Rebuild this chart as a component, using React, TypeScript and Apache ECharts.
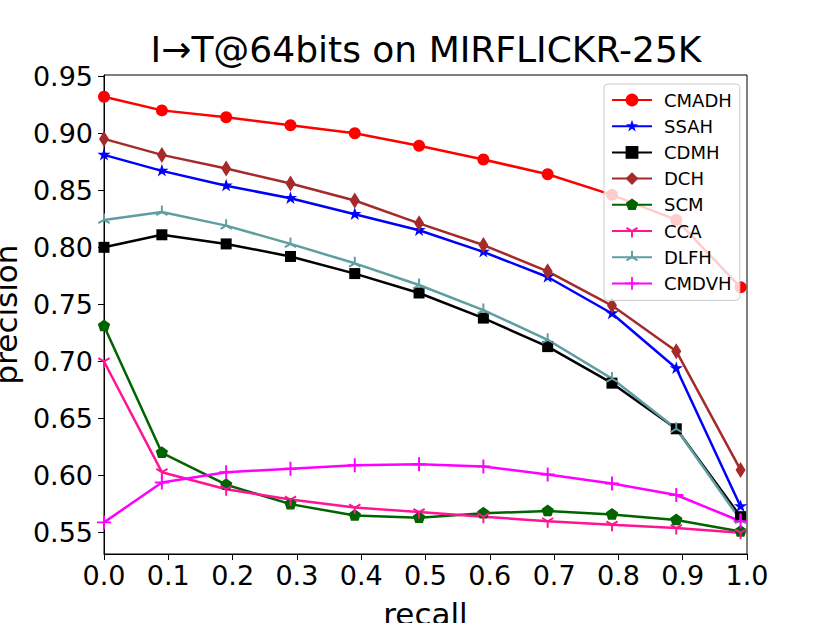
import React, { useEffect, useRef } from "react";
import * as echarts from "echarts";

const recall = [0, 0.09, 0.19, 0.29, 0.39, 0.49, 0.59, 0.69, 0.79, 0.89, 0.99];
const cmadh = [0.932, 0.92, 0.914, 0.907, 0.9, 0.889, 0.877, 0.864, 0.846, 0.824, 0.765];
const ssah = [0.881, 0.867, 0.854, 0.843, 0.829, 0.815, 0.796, 0.774, 0.742, 0.694, 0.573];
const cdmh = [0.8, 0.811, 0.803, 0.792, 0.777, 0.76, 0.738, 0.713, 0.681, 0.641, 0.564];
const dch = [0.895, 0.881, 0.869, 0.856, 0.841, 0.821, 0.802, 0.779, 0.749, 0.709, 0.605];
const scm = [0.731, 0.62, 0.592, 0.575, 0.565, 0.563, 0.567, 0.569, 0.566, 0.561, 0.551];
const cca = [0.7, 0.603, 0.588, 0.579, 0.572, 0.568, 0.564, 0.56, 0.557, 0.554, 0.55];
const dlfh = [0.824, 0.831, 0.819, 0.803, 0.786, 0.767, 0.745, 0.719, 0.685, 0.641, 0.561];
const cmdvh = [0.559, 0.594, 0.603, 0.606, 0.609, 0.61, 0.608, 0.601, 0.593, 0.583, 0.56];
const yTicks = [0.55, 0.6, 0.65, 0.7, 0.75, 0.8, 0.85, 0.9, 0.95];
const names = ["CMADH", "SSAH", "CDMH", "DCH", "SCM", "CCA", "DLFH", "CMDVH"];

const BOX = "M-10 -10 M10 10 ";
function polyPath(pts: number[][]) {
  return "M" + pts.map((p) => p[0].toFixed(2) + " " + p[1].toFixed(2)).join(" L") + " Z ";
}
function starPath() {
  const pts: number[][] = [];
  for (let i = 0; i < 10; i++) {
    const r = i % 2 === 0 ? 10 : 3.82;
    const a = -Math.PI / 2 + (i * Math.PI) / 5;
    pts.push([r * Math.cos(a), r * Math.sin(a)]);
  }
  return "path://" + BOX + polyPath(pts);
}
function pentPath() {
  const pts: number[][] = [];
  for (let i = 0; i < 5; i++) {
    const a = -Math.PI / 2 + (i * 2 * Math.PI) / 5;
    pts.push([10 * Math.cos(a), 10 * Math.sin(a)]);
  }
  return "path://" + BOX + polyPath(pts);
}
function armsPath(angles: number[], hw: number) {
  let d = BOX;
  for (const deg of angles) {
    const a = (deg * Math.PI) / 180;
    const dx = Math.cos(a), dy = Math.sin(a);
    const nx = -dy * hw, ny = dx * hw;
    const sx = -dx * hw, sy = -dy * hw;
    const ex = dx * 10, ey = dy * 10;
    d += polyPath([
      [sx - nx, sy - ny],
      [ex - nx, ey - ny],
      [ex + nx, ey + ny],
      [sx + nx, sy + ny],
    ]);
  }
  return "path://" + d;
}
const STAR = starPath();
const PENT = pentPath();
const TRI_DOWN = armsPath([90, 210, 330], 1.5);
const TRI_UP = armsPath([270, 30, 150], 1.5);
const PLUS = armsPath([0, 90, 180, 270], 1.4);

const FONT = "DejaVu Sans";

export default function App() {
  const ref = useRef<HTMLDivElement>(null);
  useEffect(() => {
    if (!ref.current) return;
    const chart = echarts.init(ref.current, undefined, { renderer: "svg" });
    const mk = (
      name: string,
      vals: number[],
      color: string,
      symbol: string,
      size: number | number[]
    ) => ({
      name,
      type: "line",
      data: recall.map((x, i) => [x, vals[i]]),
      symbol,
      symbolSize: size,
      symbolKeepAspect: true,
      showAllSymbol: true,
      clip: true,
      lineStyle: { color, width: 2.5 },
      itemStyle: { color, borderWidth: 0, opacity: 1 },
      emphasis: { disabled: true },
    });
    chart.setOption({
      animation: false,
      title: {
        text: "I→T@64bits on MIRFLICKR-25K",
        left: 421,
        top: 26,
        textAlign: "center",
        textStyle: { fontFamily: FONT, fontSize: 36, fontWeight: "normal", color: "#000" },
      },
      legend: {
        orient: "vertical",
        left: 604,
        top: 84,
        padding: [7, 8, 8, 7],
        itemWidth: 40,
        itemHeight: 16,
        itemGap: 8.2,
        backgroundColor: "rgba(255,255,255,0.8)",
        borderColor: "#cccccc",
        borderWidth: 1,
        borderRadius: 4,
        data: names,
        textStyle: {
          fontFamily: FONT,
          fontSize: 18,
          color: "#000",
          lineHeight: 16,
          padding: [0, 0, 0, 7],
        },
      },
      grid: {
        left: 104,
        top: 75,
        width: 643,
        height: 479,
        outerBoundsMode: "none",
        containLabel: false,
        show: true,
        borderColor: "#000",
        borderWidth: 1,
        backgroundColor: "transparent",
      },
      xAxis: {
        type: "value",
        min: 0,
        max: 1,
        interval: 0.1,
        name: "recall",
        nameLocation: "middle",
        nameGap: 44,
        nameTextStyle: { fontFamily: FONT, fontSize: 31, color: "#000" },
        axisLine: { show: true, lineStyle: { color: "#000", width: 1 } },
        axisTick: { show: true, inside: false, length: 6, lineStyle: { color: "#000", width: 1 } },
        axisLabel: {
          fontFamily: FONT,
          fontSize: 27,
          color: "#000",
          margin: 8,
          formatter: (v: number) => v.toFixed(1),
        },
        splitLine: { show: false },
      },
      yAxis: {
        type: "value",
        min: 0.5313,
        max: 0.951,
        name: "precision",
        nameLocation: "middle",
        nameRotate: 90,
        nameGap: 79,
        nameTextStyle: { fontFamily: FONT, fontSize: 31, color: "#000" },
        axisLine: { show: true, lineStyle: { color: "#000", width: 1 } },
        axisTick: {
          show: true,
          inside: false,
          length: 6,
          customValues: yTicks,
          lineStyle: { color: "#000", width: 1 },
        },
        axisLabel: {
          fontFamily: FONT,
          fontSize: 27,
          color: "#000",
          margin: 11,
          customValues: yTicks,
          formatter: (v: number) => v.toFixed(2),
        },
        splitLine: { show: false },
      },
      series: [
        mk("CMADH", cmadh, "#ff0000", "circle", 12),
        mk("SSAH", ssah, "#0000ff", STAR, 14),
        mk("CDMH", cdmh, "#000000", "rect", 11),
        mk("DCH", dch, "#a52a2a", "diamond", [10, 16]),
        mk("SCM", scm, "#006400", PENT, 13),
        mk("CCA", cca, "#ff1493", TRI_DOWN, 13),
        mk("DLFH", dlfh, "#5f9ea0", TRI_UP, 13),
        mk("CMDVH", cmdvh, "#ff00ff", PLUS, 14),
      ],
    });
    return () => chart.dispose();
  }, []);
  return (
    <div
      ref={ref}
      style={{ position: "absolute", left: 0, top: 0, width: 830, height: 623, background: "#fff" }}
    />
  );
}
